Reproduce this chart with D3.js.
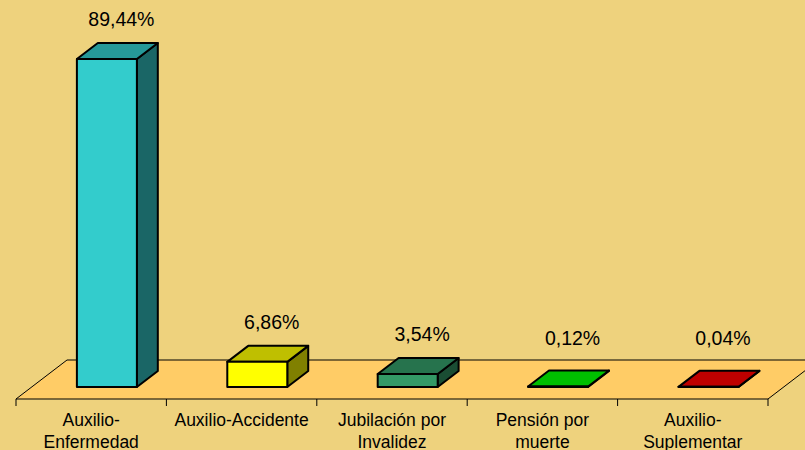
<!DOCTYPE html>
<html>
<head>
<meta charset="utf-8">
<script src="https://cdn.jsdelivr.net/npm/d3@7"></script>
<style>
  body { margin: 0; background: #EED27D; }
  svg { display: block; }
</style>
</head>
<body>
<svg id="chart"></svg>
<script>
// data
var categories = ["Auxilio-\nEnfermedad", "Auxilio-Accidente", "Jubilación por\nInvalidez", "Pensión por\nmuerte", "Auxilio-\nSuplementar"];
var values = [89.44, 6.86, 3.54, 0.12, 0.04];
var labels = ["89,44%", "6,86%", "3,54%", "0,12%", "0,04%"];
var frontColors = ["#33CCCC", "#FFFF00", "#339966", "#00FF00", "#FF0000"];

var width = 805, height = 450;

var svg = d3.select("#chart")
    .attr("width", width)
    .attr("height", height);

svg.append("rect")
    .attr("width", width).attr("height", height)
    .attr("fill", "#EED27D");

// floor geometry (3d look)
var floorFront = 399, floorBack = 360;
var skew = 51 / 39;          // dx per dy going into depth
var gapFront = 12;           // bar front plane, measured in dy from floor front
var barDepth = 16;           // bar depth in dy

var x = d3.scaleBand()
    .domain(categories)
    .range([16, 768])
    .paddingInner(0)
    .paddingOuter(0);

var baseY = floorFront - gapFront;
var y = d3.scaleLinear()
    .domain([0, 100])
    .range([baseY, baseY - 366.7]);

// floor
var fd = floorFront - floorBack;
svg.append("path")
    .attr("d", "M" + x.range()[0] + "," + floorFront +
               "L" + (x.range()[0] + fd * skew) + "," + floorBack +
               "L" + (x.range()[1] + fd * skew) + "," + floorBack +
               "L" + x.range()[1] + "," + floorFront + "Z")
    .attr("fill", "#FFCC66")
    .attr("stroke", "#000")
    .attr("stroke-width", 1);

// category axis ticks
var ticks = categories.map(function(c) { return x(c); }).concat([x.range()[1]]);
svg.append("g").selectAll("line")
    .data(ticks)
    .enter()
    .append("line")
    .attr("x1", function(d) { return d; })
    .attr("x2", function(d) { return d; })
    .attr("y1", floorFront)
    .attr("y2", floorFront + 7)
    .attr("stroke", "#000")
    .attr("stroke-width", 1);

function shade(c, k) {
    var r = d3.rgb(c);
    return d3.rgb(r.r * k, r.g * k, r.b * k).toString();
}

var bw = 60;
var ddx = barDepth * skew, ddy = barDepth;

var bars = svg.append("g").selectAll("g")
    .data(values)
    .enter()
    .append("g");

function x0(i) {
    return x(categories[i]) + (x.bandwidth() - bw) / 2 + gapFront * skew;
}

function pts(arr) {
    return arr.map(function(p) { return p.join(","); }).join(" ");
}

bars.each(function(v, i) {
    var g = d3.select(this);
    var l = x0(i), r = l + bw, b = baseY, t = y(v);
    // right side
    g.append("polygon")
        .attr("points", pts([[r, b], [r, t], [r + ddx, t - ddy], [r + ddx, b - ddy]]))
        .attr("fill", shade(frontColors[i], 0.5));
    // top
    g.append("polygon")
        .attr("points", pts([[l, t], [l + ddx, t - ddy], [r + ddx, t - ddy], [r, t]]))
        .attr("fill", shade(frontColors[i], 0.75));
    // front
    g.append("rect")
        .attr("x", l).attr("y", t)
        .attr("width", bw).attr("height", b - t)
        .attr("fill", frontColors[i]);
    g.selectAll("polygon, rect")
        .attr("stroke", "#000")
        .attr("stroke-width", 2)
        .attr("stroke-linejoin", "round");
});

// value labels
svg.append("g").selectAll("text")
    .data(values)
    .enter()
    .append("text")
    .attr("x", function(d, i) { return x0(i) + bw / 2 + ddx / 2 + 4; })
    .attr("y", function(d) { return Math.min(y(d) - ddy - 17, 345); })
    .attr("text-anchor", "middle")
    .attr("font-family", "'Liberation Sans', Arial, sans-serif")
    .attr("font-size", "19.5px")
    .attr("fill", "#000")
    .text(function(d, i) { return labels[i]; });

// category labels
var cat = svg.append("g").selectAll("text")
    .data(categories)
    .enter()
    .append("text")
    .attr("text-anchor", "middle")
    .attr("font-family", "'Liberation Sans', Arial, sans-serif")
    .attr("font-size", "17.5px")
    .attr("fill", "#000");

cat.selectAll("tspan")
    .data(function(d) { return d.split("\n").map(function(s) { return { s: s, c: d }; }); })
    .enter()
    .append("tspan")
    .attr("x", function(d) { return x(d.c) + x.bandwidth() / 2; })
    .attr("y", function(d, i) { return 426 + i * 22; })
    .text(function(d) { return d.s; });
</script>
</body>
</html>
